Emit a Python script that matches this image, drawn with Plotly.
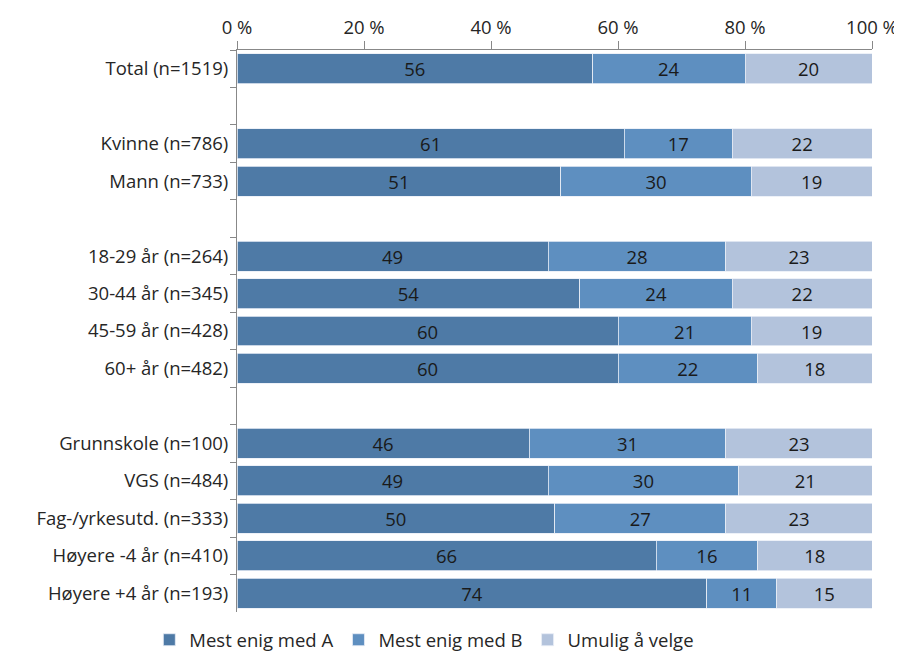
import plotly.graph_objects as go

categories = [
    "Total (n=1519)", " ",
    "Kvinne (n=786)", "Mann (n=733)", "  ",
    "18-29 år (n=264)", "30-44 år (n=345)", "45-59 år (n=428)", "60+ år (n=482)", "   ",
    "Grunnskole (n=100)", "VGS (n=484)", "Fag-/yrkesutd. (n=333)",
    "Høyere -4 år (n=410)", "Høyere +4 år (n=193)",
]
mest_enig_a = [56, None, 61, 51, None, 49, 54, 60, 60, None, 46, 49, 50, 66, 74]
mest_enig_b = [24, None, 17, 30, None, 28, 24, 21, 22, None, 31, 30, 27, 16, 11]
umulig = [20, None, 22, 19, None, 23, 22, 19, 18, None, 23, 21, 23, 18, 15]

series = [
    ("Mest enig med A", mest_enig_a, "#4E7AA6"),
    ("Mest enig med B", mest_enig_b, "#5E8FC0"),
    ("Umulig å velge", umulig, "#B3C3DC"),
]

FONT = "Open Sans"
FS = 18.5
fig = go.Figure()
for name, vals, color in series:
    fig.add_trace(go.Bar(
        y=categories, x=vals, name=name, orientation="h",
        marker=dict(color=color, line=dict(color="#E8EEF6", width=0.8)),
        text=[("" if v is None else str(v)) for v in vals],
        textposition="inside", insidetextanchor="middle", textangle=0,
        constraintext="none",
        textfont=dict(color="#1a1a1a", size=FS, family=FONT),
        hoverinfo="x+name",
    ))

# page body adds an 8px offset, so the figure is sized/margined to compensate
fig.update_layout(
    barmode="stack", bargap=0.2,
    width=894, height=647,
    margin=dict(l=229, r=30, t=42, b=43, autoexpand=False),
    plot_bgcolor="white", paper_bgcolor="white",
    font=dict(family=FONT, size=FS, color="#262626"),
    legend=dict(orientation="h", x=0.295, xanchor="center", y=-0.084, yanchor="bottom",
                font=dict(size=FS, family=FONT), traceorder="normal",
                itemwidth=30, tracegroupgap=0),
    xaxis=dict(side="top", range=[0, 100], tickvals=[0, 20, 40, 60, 80, 100],
               ticktext=["0 %", "20 %", "40 %", "60 %", "80 %", "100 %"],
               showgrid=False, zeroline=False, showline=True, linecolor="#888888",
               linewidth=1, ticks="outside", ticklen=8, tickcolor="#888888",
               tickfont=dict(size=FS), automargin=False),
    yaxis=dict(autorange="reversed", type="category", categoryorder="array",
               categoryarray=categories, showline=True, linecolor="#888888",
               linewidth=1, ticks="outside", tickson="boundaries", ticklen=6,
               tickcolor="#888888", showgrid=False, tickfont=dict(size=FS),
               ticklabelstandoff=4, automargin=False),
)

fig.write_html("out.html")
